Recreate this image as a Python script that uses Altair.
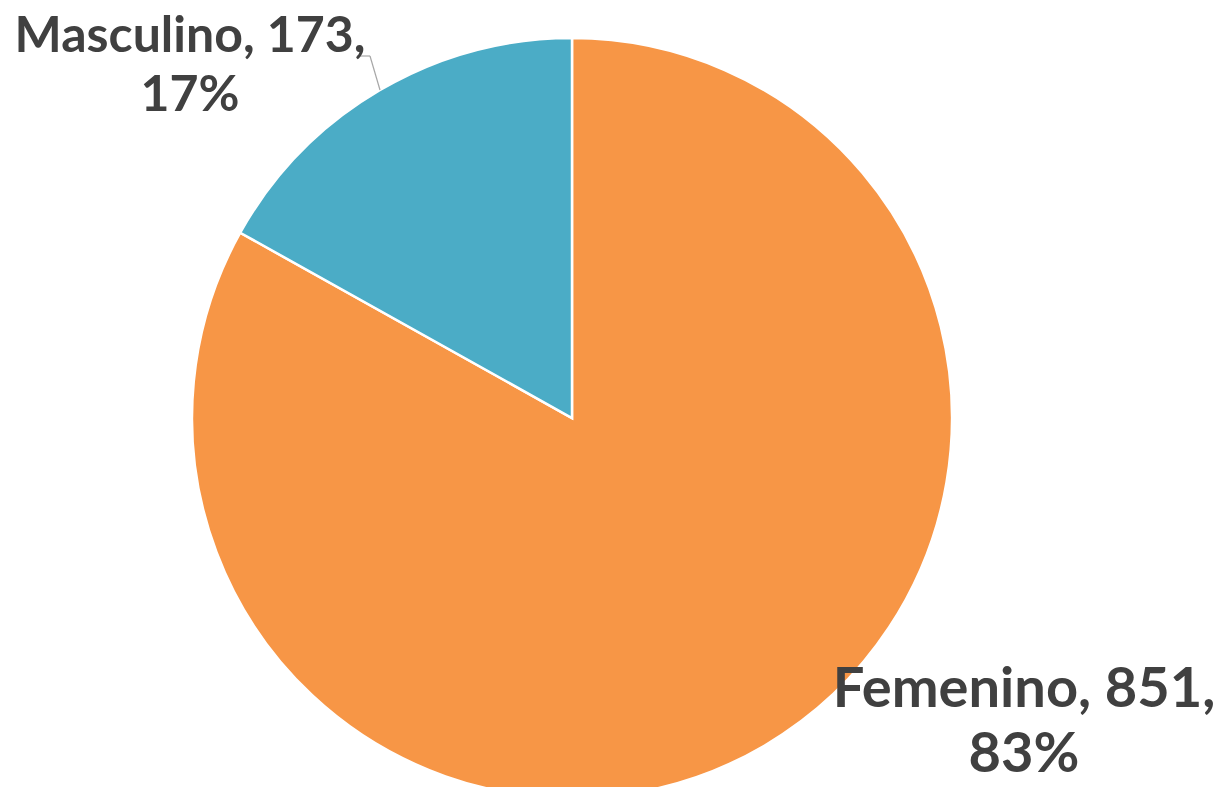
import altair as alt
import pandas as pd

categories = ["Femenino", "Masculino"]
values = [851, 173]
colors = ["#F79646", "#4BACC6"]

total = sum(values)
pcts = [round(v * 100 / total) for v in values]
df = pd.DataFrame({
    "cat": categories,
    "val": values,
    "order": [0, 1],
    "label": [f"{c}, {v},\n{p}%" for c, v, p in zip(categories, values, pcts)],
})

CX, CY, R = 564, 410, 380

base = alt.Chart(df)

pie = base.mark_arc(stroke="white", strokeWidth=2.5, radius=R).encode(
    theta=alt.Theta("val:Q", stack=True),
    order=alt.Order("order:Q"),
    color=alt.Color("cat:N", scale=alt.Scale(domain=categories, range=colors), legend=None),
    x=alt.value(CX),
    y=alt.value(CY),
)

def label(cat, x, y, size, lh):
    return base.transform_filter(alt.datum.cat == cat).mark_text(
        font="Lato", fontWeight="bold", fontSize=size, color="#404040",
        align="center", baseline="alphabetic", lineBreak="\n", lineHeight=lh,
    ).encode(text="label:N", x=alt.value(x), y=alt.value(y))

lab_m = label("Masculino", 182, 44, 50, 59)
lab_f = label("Femenino", 1016, 699, 56, 65)

leader1 = base.transform_filter(alt.datum.cat == "Masculino").mark_rule(
    color="#A6A6A6", strokeWidth=1.2
).encode(x=alt.value(349), x2=alt.value(362), y=alt.value(48), y2=alt.value(48))
leader2 = base.transform_filter(alt.datum.cat == "Masculino").mark_rule(
    color="#A6A6A6", strokeWidth=1.2
).encode(x=alt.value(362), x2=alt.value(372), y=alt.value(48), y2=alt.value(82))

chart = alt.layer(pie, leader1, leader2, lab_m, lab_f).properties(
    width=1206, height=779, autosize=alt.AutoSizeParams(type="none"), padding=0
).configure_view(stroke=None)

chart.save("out.html", embed_options={"renderer": "svg", "actions": False})
